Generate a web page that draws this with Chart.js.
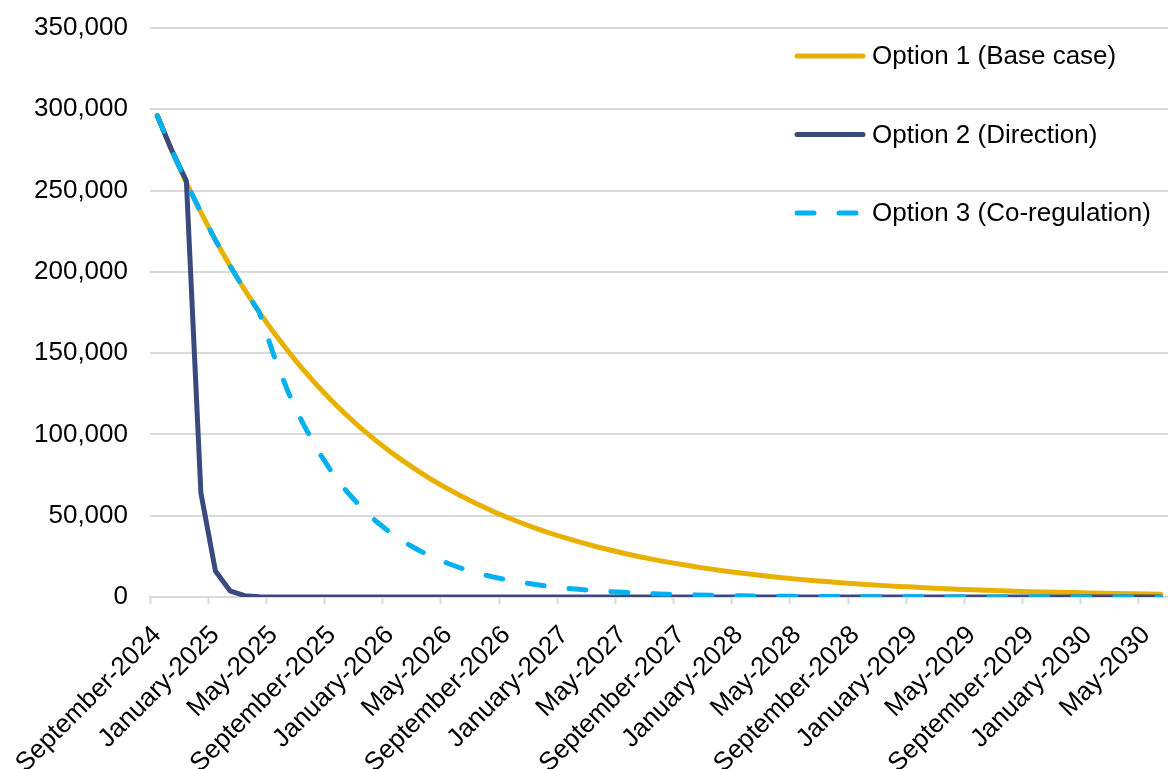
<!DOCTYPE html>
<html>
<head>
<meta charset="utf-8">
<script src="https://cdn.jsdelivr.net/npm/chart.js@4.4.1/dist/chart.umd.min.js"></script>
<style>
  html, body { margin: 0; padding: 0; background: #ffffff; }
  #wrap { width: 1168px; height: 769px; }
</style>
</head>
<body>
<div id="wrap"><canvas id="mainChart" width="1168" height="769"></canvas></div>
<script>
// ===== DATA =====
const MONTHS = [
  "September-2024", "October-2024", "November-2024", "December-2024",
  "January-2025", "February-2025", "March-2025", "April-2025",
  "May-2025", "June-2025", "July-2025", "August-2025",
  "September-2025", "October-2025", "November-2025", "December-2025",
  "January-2026", "February-2026", "March-2026", "April-2026",
  "May-2026", "June-2026", "July-2026", "August-2026",
  "September-2026", "October-2026", "November-2026", "December-2026",
  "January-2027", "February-2027", "March-2027", "April-2027",
  "May-2027", "June-2027", "July-2027", "August-2027",
  "September-2027", "October-2027", "November-2027", "December-2027",
  "January-2028", "February-2028", "March-2028", "April-2028",
  "May-2028", "June-2028", "July-2028", "August-2028",
  "September-2028", "October-2028", "November-2028", "December-2028",
  "January-2029", "February-2029", "March-2029", "April-2029",
  "May-2029", "June-2029", "July-2029", "August-2029",
  "September-2029", "October-2029", "November-2029", "December-2029",
  "January-2030", "February-2030", "March-2030", "April-2030",
  "May-2030", "June-2030"
];

const SERIES_NAMES = ["Option 1 (Base case)", "Option 2 (Direction)", "Option 3 (Co-regulation)"];

const OPTION_1 = [
  296000, 274700, 254900, 236600, 219500, 203700, 189000, 175400,
  162800, 151100, 140200, 130100, 120700, 112000, 103900, 96500,
  89500, 83100, 77100, 71500, 66400, 61600, 57200, 53000,
  49200, 45700, 42400, 39300, 36500, 33900, 31400, 29200,
  27100, 25100, 23300, 21600, 20100, 18600, 17300, 16000,
  14900, 13800, 12800, 11900, 11000, 10200, 9500, 8800,
  8200, 7600, 7000, 6500, 6100, 5600, 5200, 4800,
  4500, 4200, 3900, 3600, 3300, 3100, 2900, 2700,
  2500, 2300, 2100, 2000, 1800, 1700
];

const OPTION_2 = [
  296000, 274700, 256000, 64000, 16000, 3800, 800, 200,
  50, 0, 0, 0, 0, 0, 0, 0,
  0, 0, 0, 0, 0, 0, 0, 0,
  0, 0, 0, 0, 0, 0, 0, 0,
  0, 0, 0, 0, 0, 0, 0, 0,
  0, 0, 0, 0, 0, 0, 0, 0,
  0, 0, 0, 0, 0, 0, 0, 0,
  0, 0, 0, 0, 0, 0, 0, 0,
  0, 0, 0, 0, 0, 0
];

const OPTION_3 = [
  296000, 274700, 254900, 236600, 219500, 203700, 189000, 175400,
  149000, 126000, 107000, 90700, 76900, 65200, 55300, 46900,
  39800, 33700, 28600, 24300, 20600, 17400, 14800, 12500,
  10600, 9000, 7700, 6500, 5500, 4700, 4000, 3400,
  2900, 2400, 2000, 1700, 1500, 1300, 1100, 900,
  770, 650, 550, 460, 390, 330, 280, 240,
  200, 170, 150, 120, 100, 90, 80, 60,
  50, 45, 40, 30, 30, 20, 20, 20,
  15, 10, 10, 10, 10, 5
];

const Y_MAX = 350000;
const Y_STEP = 50000;

const COLORS = ["#E8B000", "#3B4A7E", "#00B0F0"];
const GRID = "#d9d9d9";

Chart.defaults.font.family = "'Liberation Sans', Arial, sans-serif";
Chart.defaults.font.size = 26;
Chart.defaults.color = "#000000";

// legend drawn inside the plot, top right
const insideLegend = {
  id: "insideLegend",
  afterDraw(chart) {
    const ctx = chart.ctx;
    const sets = chart.data.datasets;
    ctx.save();
    ctx.font = "26px 'Liberation Sans', Arial, sans-serif";
    ctx.textBaseline = "middle";
    ctx.textAlign = "left";
    for (let i = 0; i < sets.length; i++) {
      const y = 56 + i * 78.5;
      ctx.beginPath();
      ctx.strokeStyle = sets[i].borderColor;
      ctx.lineWidth = 5;
      ctx.lineCap = "round";
      ctx.setLineDash(sets[i].borderDash || []);
      ctx.moveTo(797, y);
      ctx.lineTo(863, y);
      ctx.stroke();
      ctx.setLineDash([]);
      ctx.fillStyle = "#000000";
      ctx.fillText(sets[i].label, 872, y + 1);
    }
    ctx.restore();
  }
};

function makeSet(label, data, color, order, dash) {
  return {
    label,
    data,
    borderColor: color,
    backgroundColor: color,
    borderWidth: 5,
    borderCapStyle: "round",
    borderJoinStyle: "round",
    borderDash: dash,
    pointRadius: 0,
    pointHoverRadius: 0,
    tension: 0,
    fill: false,
    order
  };
}

new Chart(document.getElementById("mainChart"), {
  type: "line",
  data: {
    labels: MONTHS,
    datasets: [
      makeSet(SERIES_NAMES[0], OPTION_1, COLORS[0], 3, []),
      makeSet(SERIES_NAMES[1], OPTION_2, COLORS[1], 2, []),
      makeSet(SERIES_NAMES[2], OPTION_3, COLORS[2], 1, [17, 25])
    ]
  },
  options: {
    responsive: false,
    animation: false,
    devicePixelRatio: 1,
    layout: { padding: { top: 28, right: 0, left: 0, bottom: 0 } },
    plugins: {
      legend: { display: false },
      tooltip: { enabled: false }
    },
    scales: {
      x: {
        type: "category",
        offset: true,
        grid: {
          offset: true,
          drawOnChartArea: false,
          drawTicks: true,
          tickLength: 7,
          tickWidth: 2,
          tickColor: c => (c.index % 4 === 0 ? GRID : "rgba(0,0,0,0)")
        },
        border: { display: true, color: GRID, width: 2 },
        ticks: {
          autoSkip: false,
          maxRotation: 45,
          minRotation: 45,
          padding: 16,
          color: "#000000",
          callback: function (v, i) { return i % 4 === 0 ? this.getLabelForValue(v) : ""; }
        },
        afterFit: s => { s.height = 172; s.paddingLeft = 0; s.paddingRight = 0; }
      },
      y: {
        min: 0,
        max: Y_MAX,
        grid: { color: GRID, lineWidth: 2, drawTicks: false },
        border: { display: false },
        ticks: {
          stepSize: Y_STEP,
          padding: 22,
          color: "#000000",
          callback: v => v.toLocaleString("en-US")
        },
        afterFit: s => { s.width = 150; s.paddingTop = 0; s.paddingBottom = 0; }
      }
    }
  },
  plugins: [insideLegend]
});
</script>
</body>
</html>
